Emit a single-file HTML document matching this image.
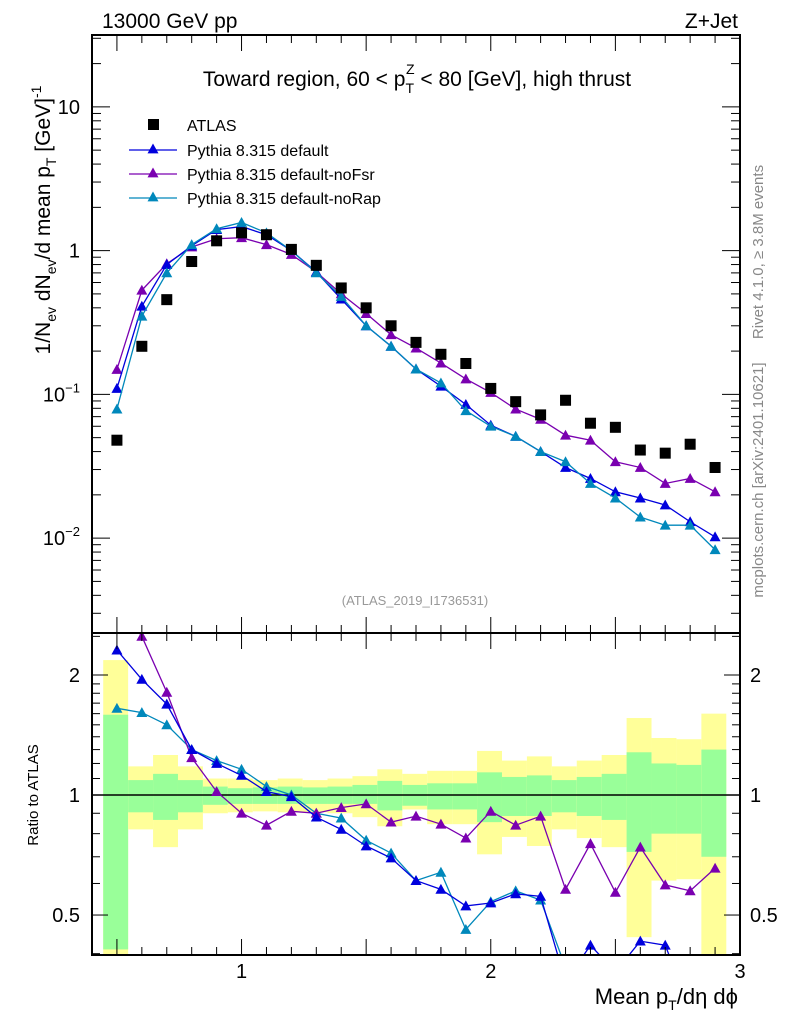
<!DOCTYPE html>
<html><head><meta charset="utf-8"><style>
html,body{margin:0;padding:0;background:#fff;}
svg{display:block;font-family:"Liberation Sans",Arial,sans-serif;}
</style></head><body>
<svg id="chart" width="786" height="1024" viewBox="0 0 786 1024" xmlns="http://www.w3.org/2000/svg">
<text x="102" y="28" font-size="21">13000 GeV pp</text>
<text x="738" y="28" font-size="21" text-anchor="end">Z+Jet</text>
<text x="417" y="86" font-size="21" text-anchor="middle">Toward region, 60 &lt; p<tspan font-size="14" dy="7">T</tspan><tspan font-size="14" dx="-8" dy="-19">Z</tspan><tspan dy="12"> &lt; 80 [GeV], high thrust</tspan></text>
<text x="415" y="605" font-size="13" fill="#999" text-anchor="middle">(ATLAS_2019_I1736531)</text>
<text transform="translate(763,252) rotate(-90)" font-size="15" fill="#888" text-anchor="middle">Rivet 4.1.0, ≥ 3.8M events</text>
<text transform="translate(763,480) rotate(-90)" font-size="15" fill="#888" text-anchor="middle">mcplots.cern.ch [arXiv:2401.10621]</text>
<text transform="translate(50,220) rotate(-90)" font-size="21" text-anchor="middle">1/N<tspan font-size="14" dy="6">ev</tspan><tspan dy="-6"> dN</tspan><tspan font-size="14" dy="6">ev</tspan><tspan dy="-6">/d mean p</tspan><tspan font-size="14" dy="6">T</tspan><tspan dy="-6"> [GeV]</tspan><tspan font-size="14" dy="-9">-1</tspan></text>
<text transform="translate(38,795) rotate(-90)" font-size="15" text-anchor="middle">Ratio to ATLAS</text>
<text x="738" y="1004" font-size="22" text-anchor="end">Mean p<tspan font-size="14" dy="6">T</tspan><tspan dy="-6">/dη dϕ</tspan></text>
</svg>
<script>
const xs=[0.5,0.6,0.7,0.8,0.9,1.0,1.1,1.2,1.3,1.4,1.5,1.6,1.7,1.8,1.9,2.0,2.1,2.2,2.3,2.4,2.5,2.6,2.7,2.8,2.9];
const atlas=[0.048,0.216,0.456,0.84,1.17,1.33,1.29,1.02,0.79,0.55,0.40,0.30,0.23,0.19,0.164,0.11,0.089,0.072,0.091,0.063,0.059,0.041,0.039,0.045,0.031];
const pyDefault=[0.11,0.41,0.80,1.08,1.40,1.47,1.29,1.0,0.71,0.46,0.30,0.216,0.15,0.114,0.085,0.061,0.051,0.040,0.031,0.026,0.021,0.019,0.017,0.013,0.0102];
const pyNoFsr=[0.149,0.53,0.81,1.06,1.21,1.23,1.10,0.94,0.71,0.50,0.365,0.26,0.21,0.165,0.128,0.103,0.079,0.067,0.052,0.048,0.034,0.031,0.024,0.026,0.021];
const pyNoRap=[0.079,0.35,0.70,1.10,1.42,1.57,1.33,1.0,0.70,0.48,0.30,0.216,0.15,0.12,0.077,0.06,0.051,0.040,0.034,0.024,0.019,0.014,0.0123,0.0123,0.0083];
const rDefault=[2.31,1.95,1.69,1.30,1.20,1.12,1.02,0.99,0.88,0.82,0.745,0.695,0.61,0.58,0.527,0.536,0.565,0.557,0.34,0.42,0.36,0.43,0.42,0.29,0.33];
const rNoFsr=[3.1,2.5,1.81,1.24,1.02,0.90,0.84,0.91,0.90,0.93,0.95,0.855,0.885,0.845,0.78,0.91,0.84,0.885,0.58,0.755,0.57,0.74,0.595,0.575,0.655];
const rNoRap=[1.65,1.61,1.50,1.30,1.22,1.16,1.05,1.0,0.90,0.875,0.77,0.715,0.61,0.64,0.46,0.54,0.575,0.545,0.37,0.38,0.32,0.34,0.32,0.27,0.27];
const yelUp=[2.18,1.18,1.26,1.18,1.10,1.10,1.09,1.10,1.09,1.10,1.115,1.16,1.13,1.15,1.15,1.29,1.22,1.25,1.18,1.22,1.26,1.56,1.39,1.38,1.60];
const grUp=[1.59,1.09,1.13,1.09,1.05,1.04,1.045,1.05,1.045,1.05,1.06,1.085,1.06,1.07,1.07,1.14,1.11,1.12,1.09,1.11,1.13,1.28,1.20,1.19,1.30];
const grLo=[0.41,0.905,0.866,0.905,0.945,0.95,0.95,0.95,0.95,0.95,0.95,0.915,0.94,0.92,0.92,0.855,0.886,0.886,0.905,0.886,0.866,0.72,0.80,0.80,0.70];
const yelLo=[0.3,0.82,0.74,0.82,0.90,0.905,0.91,0.905,0.905,0.90,0.88,0.835,0.92,0.845,0.845,0.71,0.785,0.745,0.82,0.78,0.74,0.44,0.61,0.615,0.3];
const mainTicks=["10<tspan font-size='13' dy='-9'>−2</tspan>","10<tspan font-size='13' dy='-9'>−1</tspan>","1","10"];
const mainTickVals=[0.01,0.1,1,10];
const xTickVals=[1,2,3];
const ratioTickVals=[0.5,1,2];

const NS="http://www.w3.org/2000/svg";
const svg=document.getElementById('chart');
const L=92,R=740,T=35,MB=633,RB=955;
const X=v=>L+(v-0.4)/2.6*(R-L);
const yMin=-2.66,yMax=1.5;
const Y=v=>MB-(Math.log10(v)-yMin)/(yMax-yMin)*(MB-T);
const rMin=-1.333,rMax=1.35;
const RY=v=>RB-(Math.log2(v)-rMin)/(rMax-rMin)*(RB-MB);
function el(tag,attrs,parent){const e=document.createElementNS(NS,tag);for(const k in attrs)e.setAttribute(k,attrs[k]);(parent||svg).appendChild(e);return e;}

const bands=el('g',{});


const clip=el('clipPath',{id:'rclip'});el('rect',{x:L,y:MB,width:R-L,height:RB-MB},clip);
const clip2=el('clipPath',{id:'mclip'});el('rect',{x:L,y:T,width:R-L,height:MB-T},clip2);
bands.setAttribute('clip-path','url(#rclip)');
xs.forEach((x,i)=>{
 const x0=X(x-0.055),x1=X(x+0.045);
 const yb=el('rect',{x:x0,y:RY(yelUp[i]),width:x1-x0,height:RY(yelLo[i])-RY(yelUp[i]),fill:'#ffff99'},bands);
 
 
 const gb=el('rect',{x:x0,y:RY(grUp[i]),width:x1-x0,height:RY(grLo[i])-RY(grUp[i]),fill:'#99ff99'},bands);
 
 
});
const one=el('line',{x1:L,x2:R,y1:RY(1),y2:RY(1),stroke:'#000','stroke-width':1.5});



function tri(g,cx,cy,c,s){el('polygon',{points:`${cx},${cy-s} ${cx-s},${cy+s*0.8} ${cx+s},${cy+s*0.8}`,fill:c},g);}
function series(vals,Yf,color,name,clipId){
 const g=el('g',{'clip-path':`url(#${clipId})`});
 
 
 el('polyline',{points:xs.map((x,i)=>`${X(x)},${Yf(vals[i])}`).join(' '),fill:'none',stroke:color,'stroke-width':1.3},g);
 xs.forEach((x,i)=>tri(g,X(x),Yf(vals[i]),color,5.5));
}
series(rNoRap,RY,'#0088bb','ratio-pythia-norap','rclip');
series(rNoFsr,RY,'#7a00b0','ratio-pythia-nofsr','rclip');
series(rDefault,RY,'#0000dd','ratio-pythia-default','rclip');
series(pyNoFsr,Y,'#7a00b0','series-pythia-nofsr','mclip');
series(pyDefault,Y,'#0000dd','series-pythia-default','mclip');
series(pyNoRap,Y,'#0088bb','series-pythia-norap','mclip');
const ag=el('g',{});


xs.forEach((x,i)=>el('rect',{x:X(x)-5.5,y:Y(atlas[i])-5.5,width:11,height:11,fill:'#000'},ag));

const f1=el('rect',{x:L,y:T,width:R-L,height:MB-T,fill:'none',stroke:'#000','stroke-width':2});


const f2=el('rect',{x:L,y:MB,width:R-L,height:RB-MB,fill:'none',stroke:'#000','stroke-width':2});



const tg=el('g',{stroke:'#000','stroke-width':1});
for(let k=5;k<=30;k++){const v=k/10,x=X(v),big=k%5==0,len=big?16:8;
 [[T,T+len],[MB,MB-len],[MB,MB+len],[RB,RB-len]].forEach(p=>el('line',{x1:x,x2:x,y1:p[0],y2:p[1]},tg));}
xTickVals.forEach(v=>{const t=el('text',{x:X(v),y:978,'font-size':20,'text-anchor':'middle'});t.textContent=v;
 
 });
for(let d=-3;d<=1;d++)for(let m=1;m<=9;m++){const v=m*Math.pow(10,d);if(v<Math.pow(10,yMin)||v>Math.pow(10,yMax))continue;const y=Y(v),len=m==1?18:9;
 el('line',{x1:L,x2:L+len,y1:y,y2:y},tg);el('line',{x1:R,x2:R-len,y1:y,y2:y},tg);}
mainTickVals.forEach((v,i)=>{const t=el('text',{x:80,y:Y(v)+7,'font-size':20,'text-anchor':'end'});t.innerHTML=mainTicks[i];
 
 });
[0.4,0.5,0.6,0.7,0.8,0.9,1,1.1,1.2,1.3,1.4,1.5,1.6,1.7,1.8,1.9,2,2.5].forEach(v=>{const y=RY(v),big=ratioTickVals.includes(v),len=big?16:8;
 el('line',{x1:L,x2:L+len,y1:y,y2:y},tg);el('line',{x1:R,x2:R-len,y1:y,y2:y},tg);});
ratioTickVals.forEach(v=>{[[80,'end'],[750,'start']].forEach(p=>{const t=el('text',{x:p[0],y:RY(v)+7,'font-size':20,'text-anchor':p[1]});t.textContent=v;
 
 });});

const lg=el('g',{});


el('rect',{x:148,y:119,width:11,height:11,fill:'#000'},lg);
let t0=el('text',{x:187,y:131,'font-size':16},lg);t0.textContent='ATLAS';
[['#0000dd','Pythia 8.315 default'],['#7a00b0','Pythia 8.315 default-noFsr'],['#0088bb','Pythia 8.315 default-noRap']].forEach((s,i)=>{
 const y=150+i*24;
 const e=el('g',{},lg);
 
 
 el('line',{x1:129,x2:177,y1:y,y2:y,stroke:s[0],'stroke-width':1.3},e);tri(e,153,y-1,s[0],5.5);
 const t=el('text',{x:187,y:y+6,'font-size':16},e);t.textContent=s[1];});
</script>
</body></html>
